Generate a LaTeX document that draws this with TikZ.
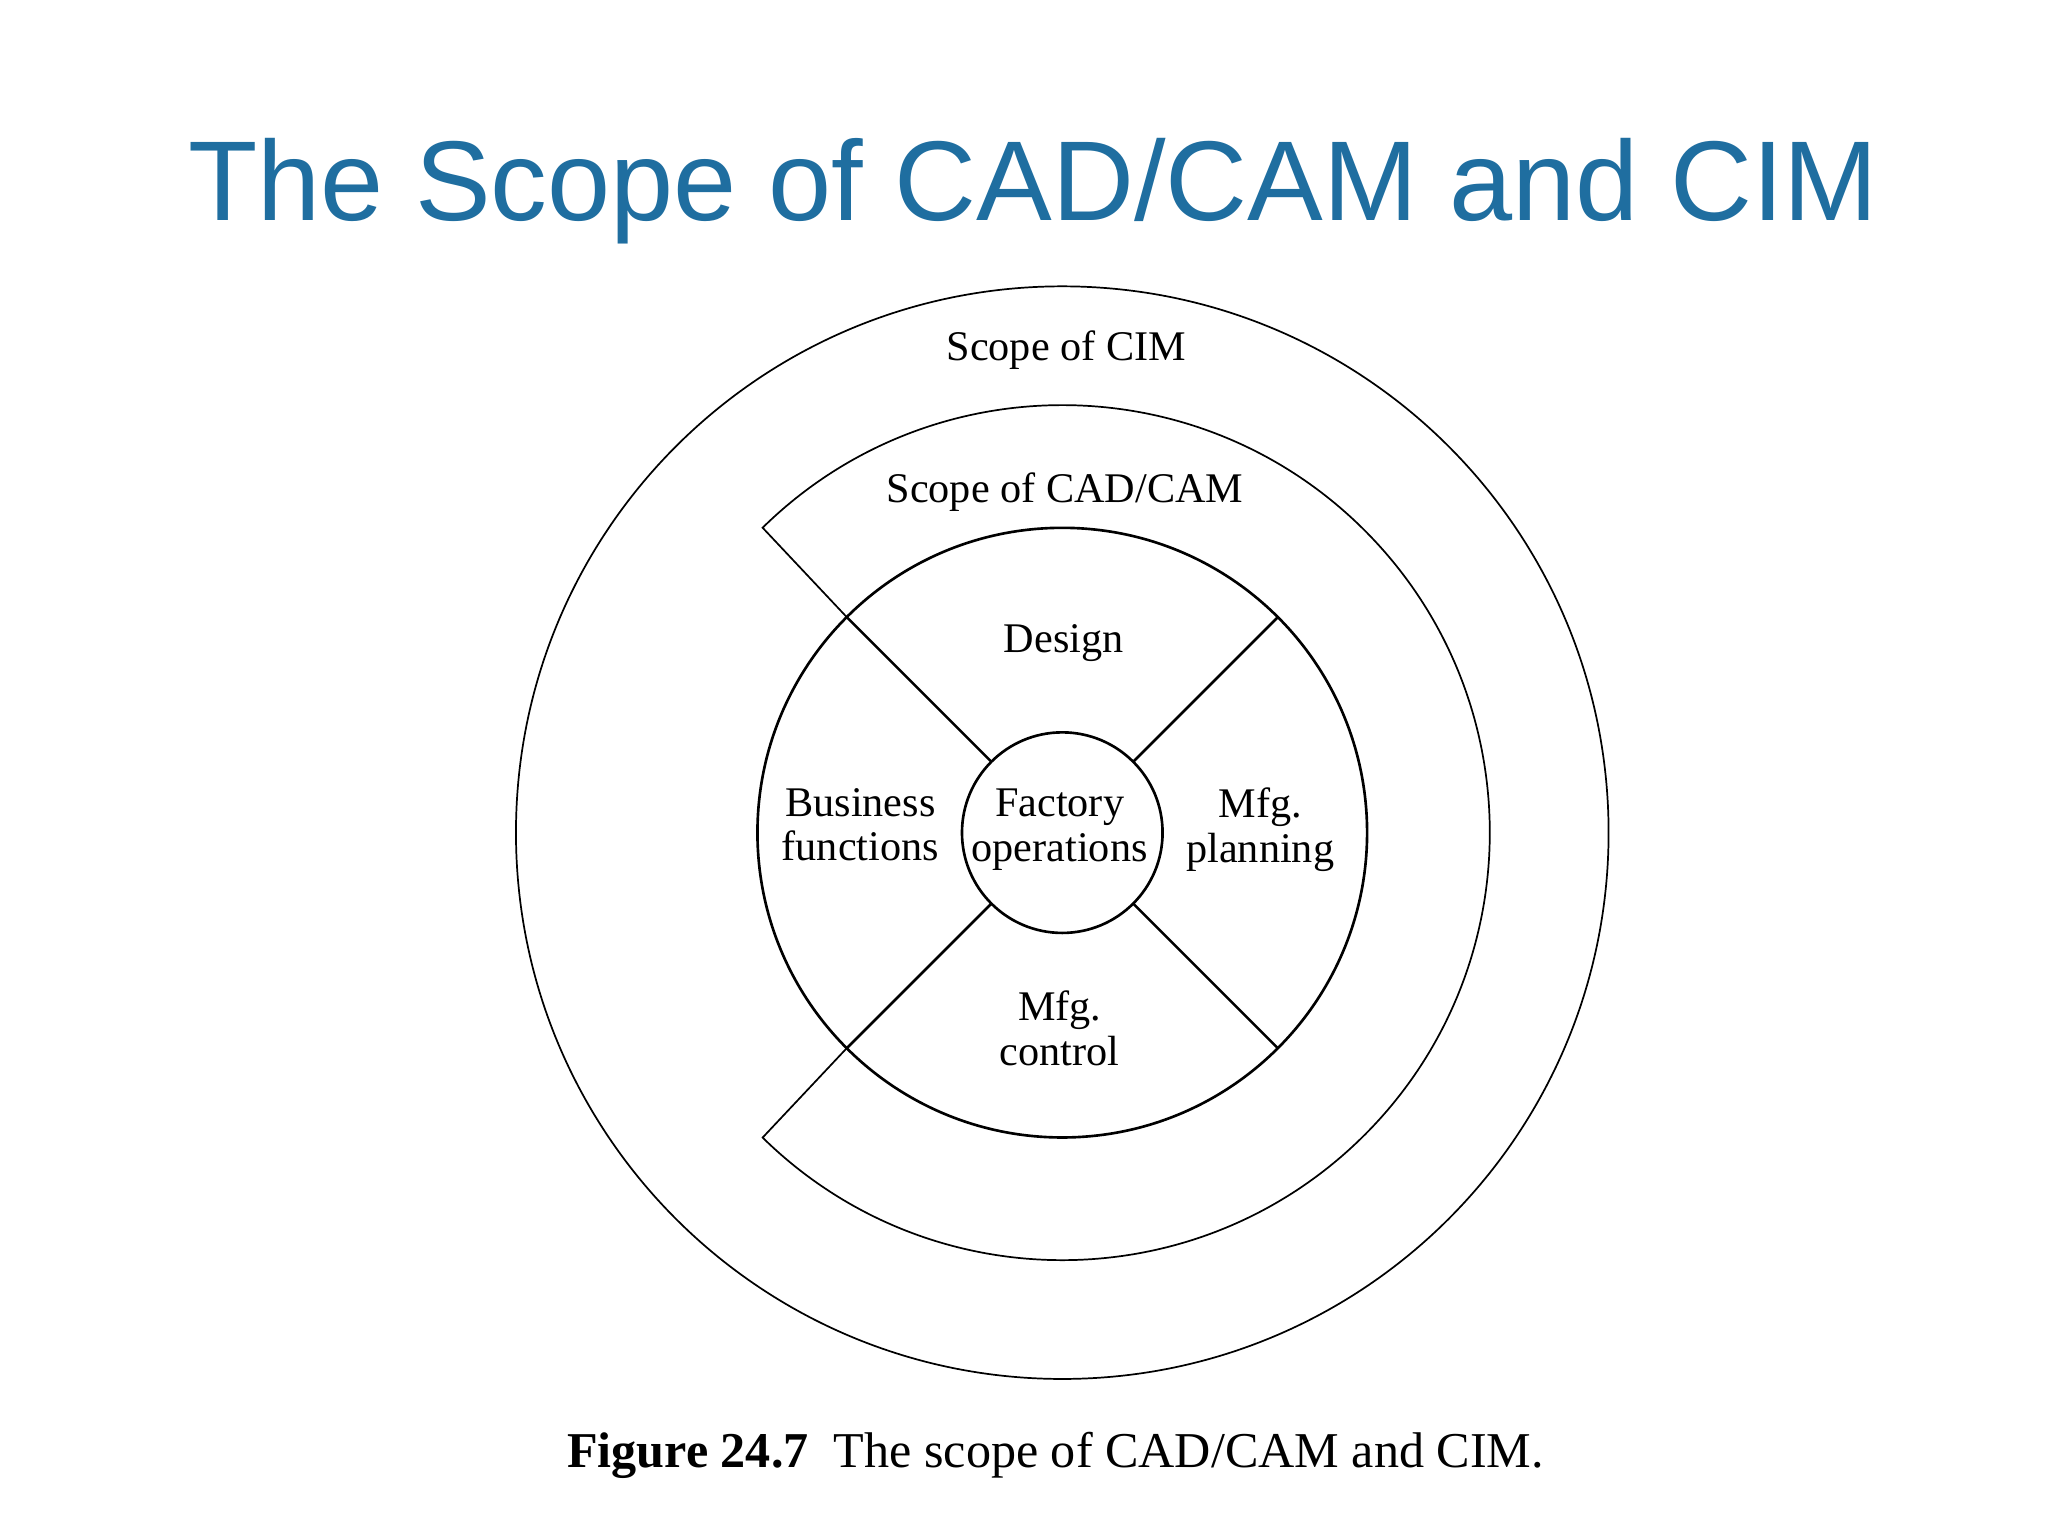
\documentclass[tikz,border=0pt]{standalone}
\usetikzlibrary{calc}
\usepackage{fontspec}
\setmainfont{Liberation Serif}
\newfontfamily\titlefont{Liberation Sans}
\definecolor{titleblue}{HTML}{1F6EA0}
\begin{document}
\begin{tikzpicture}[x=1pt,y=1pt,
  thinln/.style={line width=1.3pt},
  ln/.style={line width=2pt},
  lbl/.style={font=\fontsize{32}{34}\selectfont, align=center, inner sep=0pt}]
\useasboundingbox (0,0) rectangle (1552,1164);
\fill[white] (0,0) rectangle (1552,1164);
\node[font=\titlefont\fontsize{86}{90}\selectfont, text=titleblue] (title) at (783,1019) {The Scope of CAD/CAM and CIM};
\coordinate (c) at (805,533);
\draw[thinln] (c) circle[radius=414];
\draw[thinln] ($(c)+(135:231)$) -- ($(c)+(134.5:324)$) arc[start angle=134.5, end angle=-134.5, radius=324] -- ($(c)+(225:231)$);
\draw[ln] (c) circle[radius=231];
\draw[ln] (c) circle[radius=76];
\foreach \a in {45,135,225,315}
  \draw[ln] ($(c)+(\a:76)$) -- ($(c)+(\a:231)$);
\node[lbl] (cim) at (808,899) {Scope of CIM};
\node[lbl] (cadcam) at (807,791) {Scope of CAD/CAM};
\node[lbl] (design) at (806,677) {Design};
\node[lbl] (bus) at (652,539) {Business\\functions};
\node[lbl] (fac) at (803,535) {Factory\\operations};
\node[lbl] (plan) at (955,535) {Mfg.\\planning};
\node[lbl] (ctrl) at (803,385) {Mfg.\\control};
\node[font=\fontsize{38}{40}\selectfont] (cap) at (800,61) {\textbf{Figure 24.7}\enspace The scope of CAD/CAM and CIM.};
\end{tikzpicture}
\end{document}
